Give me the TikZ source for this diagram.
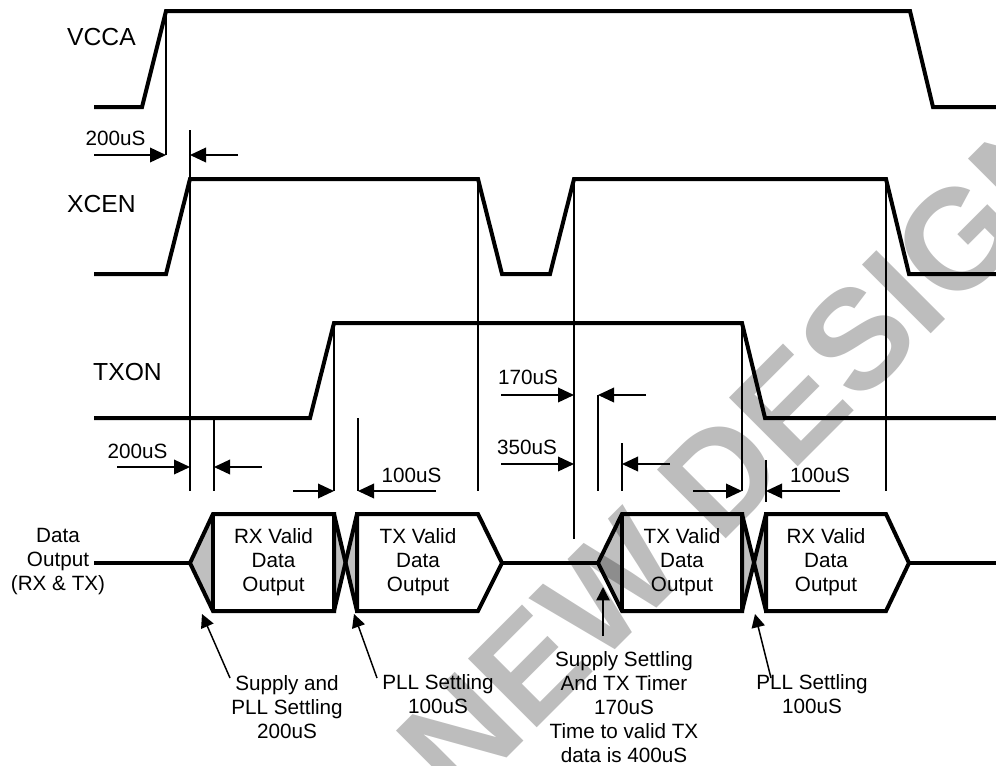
\documentclass[tikz,border=0pt]{standalone}
\usepackage{fontspec}
\setmainfont{Liberation Sans}
\usetikzlibrary{arrows.meta}
\begin{document}
\begin{tikzpicture}[x=0.75pt,y=-0.75pt,
  wave/.style={line width=3pt,line join=miter},
  guide/.style={line width=1.1pt},
  dimarrow/.style={line width=1.1pt,-{Triangle[length=12pt,width=11pt]}},
  annot/.style={line width=1.1pt,-{Triangle[length=10pt,width=10pt]}},
  sig/.style={font=\fontsize{18.5}{22}\selectfont,inner sep=0pt},
  lbl/.style={font=\fontsize{15.5}{18}\selectfont,inner sep=0pt,align=center},
  settle/.style={fill=black!25,draw=none},
]
\useasboundingbox (0,0) rectangle (996,765);

% signal names
\node[sig] (vcca) at (101.5,37) {VCCA};
\node[sig] (xcen) at (101.5,204) {XCEN};
\node[sig] (txon) at (127.5,372) {TXON};

% settling fills
\fill[settle] (190,563) -- (213,514) -- (213,611) -- cycle;
\fill[settle] (334,514) -- (345.5,562.5) -- (334,611) -- cycle;
\fill[settle] (357,514) -- (345.5,562.5) -- (357,611) -- cycle;
\fill[settle] (598,563) -- (622,514) -- (622,611) -- cycle;
\fill[settle] (742,514) -- (754,562.5) -- (742,611) -- cycle;
\fill[settle] (766,514) -- (754,562.5) -- (766,611) -- cycle;

% waveforms
\draw[wave] (94,107) -- (142,107) -- (166,11) -- (910,11) -- (933,107) -- (996,107);
\draw[wave] (94,274) -- (166,274) -- (190,179) -- (478,179) -- (502,274) -- (550,274)
  -- (574,179) -- (886,179) -- (909,274) -- (996,274);
\draw[wave] (94,418) -- (310,418) -- (334,323) -- (742,323) -- (765,418) -- (996,418);

% data output bus
\draw[wave] (94,563) -- (190,563);
\draw[wave] (334,514) -- (213,514) -- (190,563) -- (213,611) -- (334,611) -- cycle;
\draw[wave] (213,514) -- (213,611);
\draw[wave] (334,514) -- (357,611);
\draw[wave] (357,514) -- (334,611);
\draw[wave] (357,611) -- (357,514) -- (478,514) -- (502,563) -- (478,611) -- cycle;
\draw[wave] (502,563) -- (598,563);
\draw[wave] (742,514) -- (622,514) -- (598,563) -- (622,611) -- (742,611) -- cycle;
\draw[wave] (622,514) -- (622,611);
\draw[wave] (742,514) -- (766,611);
\draw[wave] (766,514) -- (742,611);
\draw[wave] (766,611) -- (766,514) -- (886,514) -- (909,563) -- (886,611) -- cycle;
\draw[wave] (909,563) -- (996,563);

% guide lines
\draw[guide] (166,11) -- (166,155);
\draw[guide] (190,130) -- (190,491);
\draw[guide] (214,418) -- (214,491);
\draw[guide] (334,323) -- (334,491);
\draw[guide] (358,418) -- (358,491);
\draw[guide] (478,179) -- (478,491);
\draw[guide] (574,179) -- (574,539);
\draw[guide] (598,395) -- (598,491);
\draw[guide] (622,443) -- (622,491);
\draw[guide] (742,323) -- (742,491);
\draw[guide] (766,460) -- (766,502);
\draw[guide] (886,179) -- (886,491);

% dimension arrows
\draw[dimarrow] (94,155) -- (166,155);
\draw[dimarrow] (238,155) -- (190,155);
\node[lbl] (d1) at (115.5,138) {200uS};
\draw[dimarrow] (117,467) -- (190,467);
\draw[dimarrow] (262,467) -- (214,467);
\node[lbl] (d2) at (137.5,451) {200uS};
\draw[dimarrow] (293,491) -- (334,491);
\draw[dimarrow] (436,491) -- (358,491);
\node[lbl] (d3) at (411.5,475) {100uS};
\draw[dimarrow] (501,395) -- (574,395);
\draw[dimarrow] (646,395) -- (598,395);
\node[lbl] (d4) at (528,377) {170uS};
\draw[dimarrow] (501,464) -- (574,464);
\draw[dimarrow] (670,464) -- (622,464);
\node[lbl] (d5) at (527,447) {350uS};
\draw[dimarrow] (693,491) -- (742,491);
\draw[dimarrow] (840,491) -- (766,491);
\node[lbl] (d6) at (820,475.5) {100uS};

% bus texts
\node[lbl] (dout) at (58,562) {Data\\Output\\(RX \& TX)};
\node[lbl] (rx1) at (273.5,562) {RX Valid\\Data\\Output};
\node[lbl] (tx1) at (418,562) {TX Valid\\Data\\Output};
\node[lbl] (tx2) at (682,562) {TX Valid\\Data\\Output};
\node[lbl] (rx2) at (826,562) {RX Valid\\Data\\Output};

% annotations
\node[lbl] (a1) at (287,707) {Supply and\\PLL Settling\\200uS};
\node[lbl] (a2) at (438,694.5) {PLL Settling\\100uS};
\node[lbl] (a3) at (624,707) {Supply Settling\\And TX Timer\\170uS\\Time to valid TX\\data is 400uS};
\node[lbl] (a4) at (812,694.5) {PLL Settling\\100uS};
\coordinate (s1) at (230,678); \coordinate (t1) at (202,614);
\coordinate (s2) at (377,678); \coordinate (t2) at (354,614);
\coordinate (s3) at (603,636); \coordinate (t3) at (603,587);
\coordinate (s4) at (771,678); \coordinate (t4) at (755,614);
\draw[annot] (s1) -- (t1);
\draw[annot] (s2) -- (t2);
\draw[annot] (s3) -- (t3);
\draw[annot] (s4) -- (t4);

% watermark
\node[rotate=45,opacity=0.26,text=black,inner sep=0pt,
  font=\fontsize{106}{106}\selectfont\bfseries] (wm) at (746,450) {NEW DESIGN};
\end{tikzpicture}
\end{document}
